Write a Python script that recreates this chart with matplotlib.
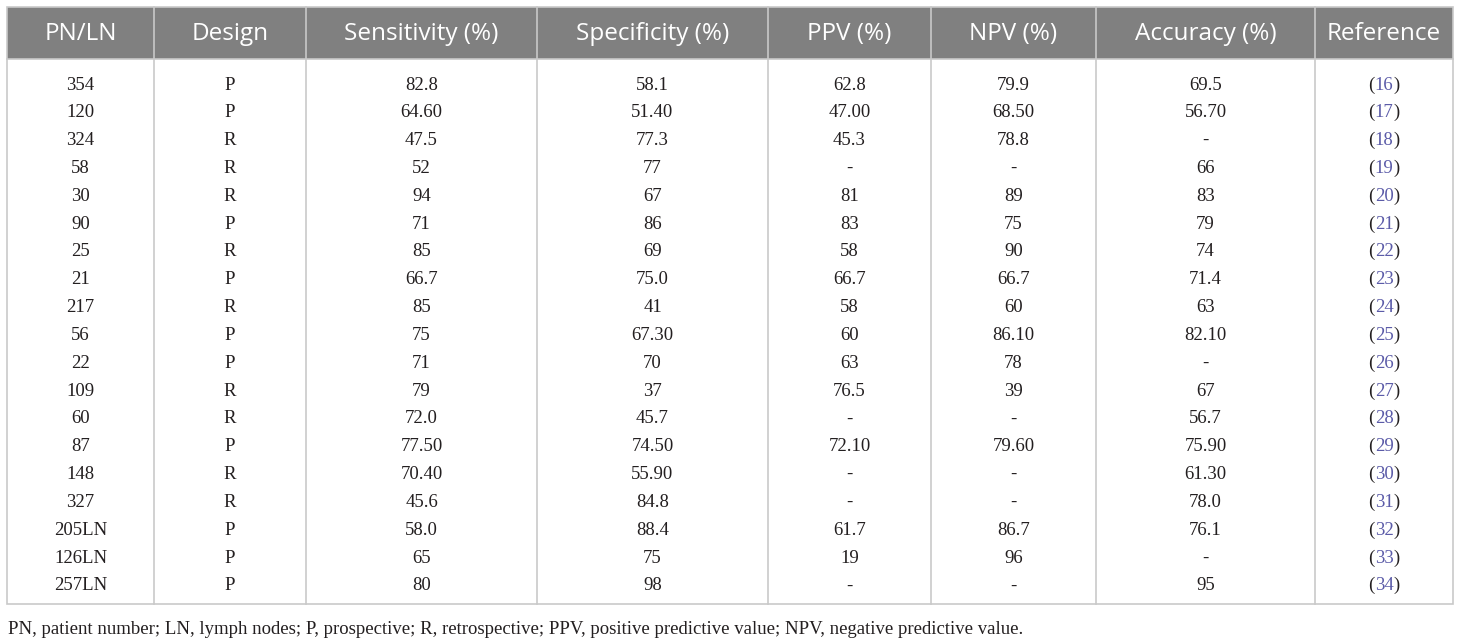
import matplotlib
matplotlib.use("Agg")
import matplotlib.pyplot as plt
from matplotlib.patches import Rectangle

columns = ["PN/LN", "Design", "Sensitivity (%)", "Specificity (%)", "PPV (%)",
           "NPV (%)", "Accuracy (%)", "Reference"]
pn_ln = ["354", "120", "324", "58", "30", "90", "25", "21", "217", "56", "22",
         "109", "60", "87", "148", "327", "205LN", "126LN", "257LN"]
design = ["P", "P", "R", "R", "R", "P", "R", "P", "R", "P", "P", "R", "R", "P",
          "R", "R", "P", "P", "P"]
sensitivity = ["82.8", "64.60", "47.5", "52", "94", "71", "85", "66.7", "85", "75",
               "71", "79", "72.0", "77.50", "70.40", "45.6", "58.0", "65", "80"]
specificity = ["58.1", "51.40", "77.3", "77", "67", "86", "69", "75.0", "41", "67.30",
               "70", "37", "45.7", "74.50", "55.90", "84.8", "88.4", "75", "98"]
ppv = ["62.8", "47.00", "45.3", "-", "81", "83", "58", "66.7", "58", "60", "63",
       "76.5", "-", "72.10", "-", "-", "61.7", "19", "-"]
npv = ["79.9", "68.50", "78.8", "-", "89", "75", "90", "66.7", "60", "86.10", "78",
       "39", "-", "79.60", "-", "-", "86.7", "96", "-"]
accuracy = ["69.5", "56.70", "-", "66", "83", "79", "74", "71.4", "63", "82.10", "-",
            "67", "56.7", "75.90", "61.30", "78.0", "76.1", "-", "95"]
references = ["16", "17", "18", "19", "20", "21", "22", "23", "24", "25", "26", "27",
              "28", "29", "30", "31", "32", "33", "34"]
footnote = ("PN, patient number; LN, lymph nodes; P, prospective; R, retrospective; "
            "PPV, positive predictive value; NPV, negative predictive value.")

W, H = 1460, 642
fig = plt.figure(figsize=(W / 100, H / 100), dpi=100)
ax = fig.add_axes([0, 0, 1, 1])
ax.set_xlim(0, W)
ax.set_ylim(H, 0)
ax.axis("off")

col_edges = [7, 154, 306, 537, 768, 931, 1096, 1315, 1453]
top, header_bottom, bottom = 7, 59, 604
first_row_y, row_step = 85, 27.83
grid_color = "#c9c9c9"
header_bg = "#808080"
text_color = "#231f20"
ref_color = "#5b5ba8"

ax.add_patch(Rectangle((col_edges[0], top), col_edges[-1] - col_edges[0],
                       header_bottom - top, facecolor=header_bg, edgecolor="none", zorder=1))
ax.add_patch(Rectangle((col_edges[0], top), col_edges[-1] - col_edges[0],
                       bottom - top, facecolor="none", edgecolor=grid_color, lw=1.2, zorder=3))
ax.plot([col_edges[0], col_edges[-1]], [header_bottom, header_bottom], color=grid_color, lw=1.2, zorder=3)
for x in col_edges[1:-1]:
    ax.plot([x, x], [top, bottom], color=grid_color, lw=1.2, zorder=3)

centers = [(a + b) / 2 for a, b in zip(col_edges[:-1], col_edges[1:])]
for cx, name in zip(centers, columns):
    ax.text(cx, (top + header_bottom) / 2 + 1, name, ha="center", va="center",
            color="white", fontsize=17.5, family="Open Sans", zorder=4)

body_font = dict(fontsize=13.5, family="Liberation Serif", color=text_color, zorder=4)
data_cols = [pn_ln, design, sensitivity, specificity, ppv, npv, accuracy]
for i in range(len(pn_ln)):
    y = first_row_y + i * row_step
    for j, col in enumerate(data_cols):
        ax.text(centers[j], y, col[i], ha="center", va="center", **body_font)
    num = ax.text(centers[7], y, references[i], ha="center", va="center",
                  fontsize=13.5, family="Liberation Serif", color=ref_color, zorder=4)
    ax.annotate("(", xy=(0, 0), xycoords=num, ha="right", va="bottom", **body_font)
    ax.annotate(")", xy=(1, 0), xycoords=num, ha="left", va="bottom", **body_font)

ax.text(8, 629, footnote, ha="left", va="center", fontsize=13.5,
        family="Liberation Serif", color=text_color)

fig.savefig("out.png", dpi=100, facecolor="white")
